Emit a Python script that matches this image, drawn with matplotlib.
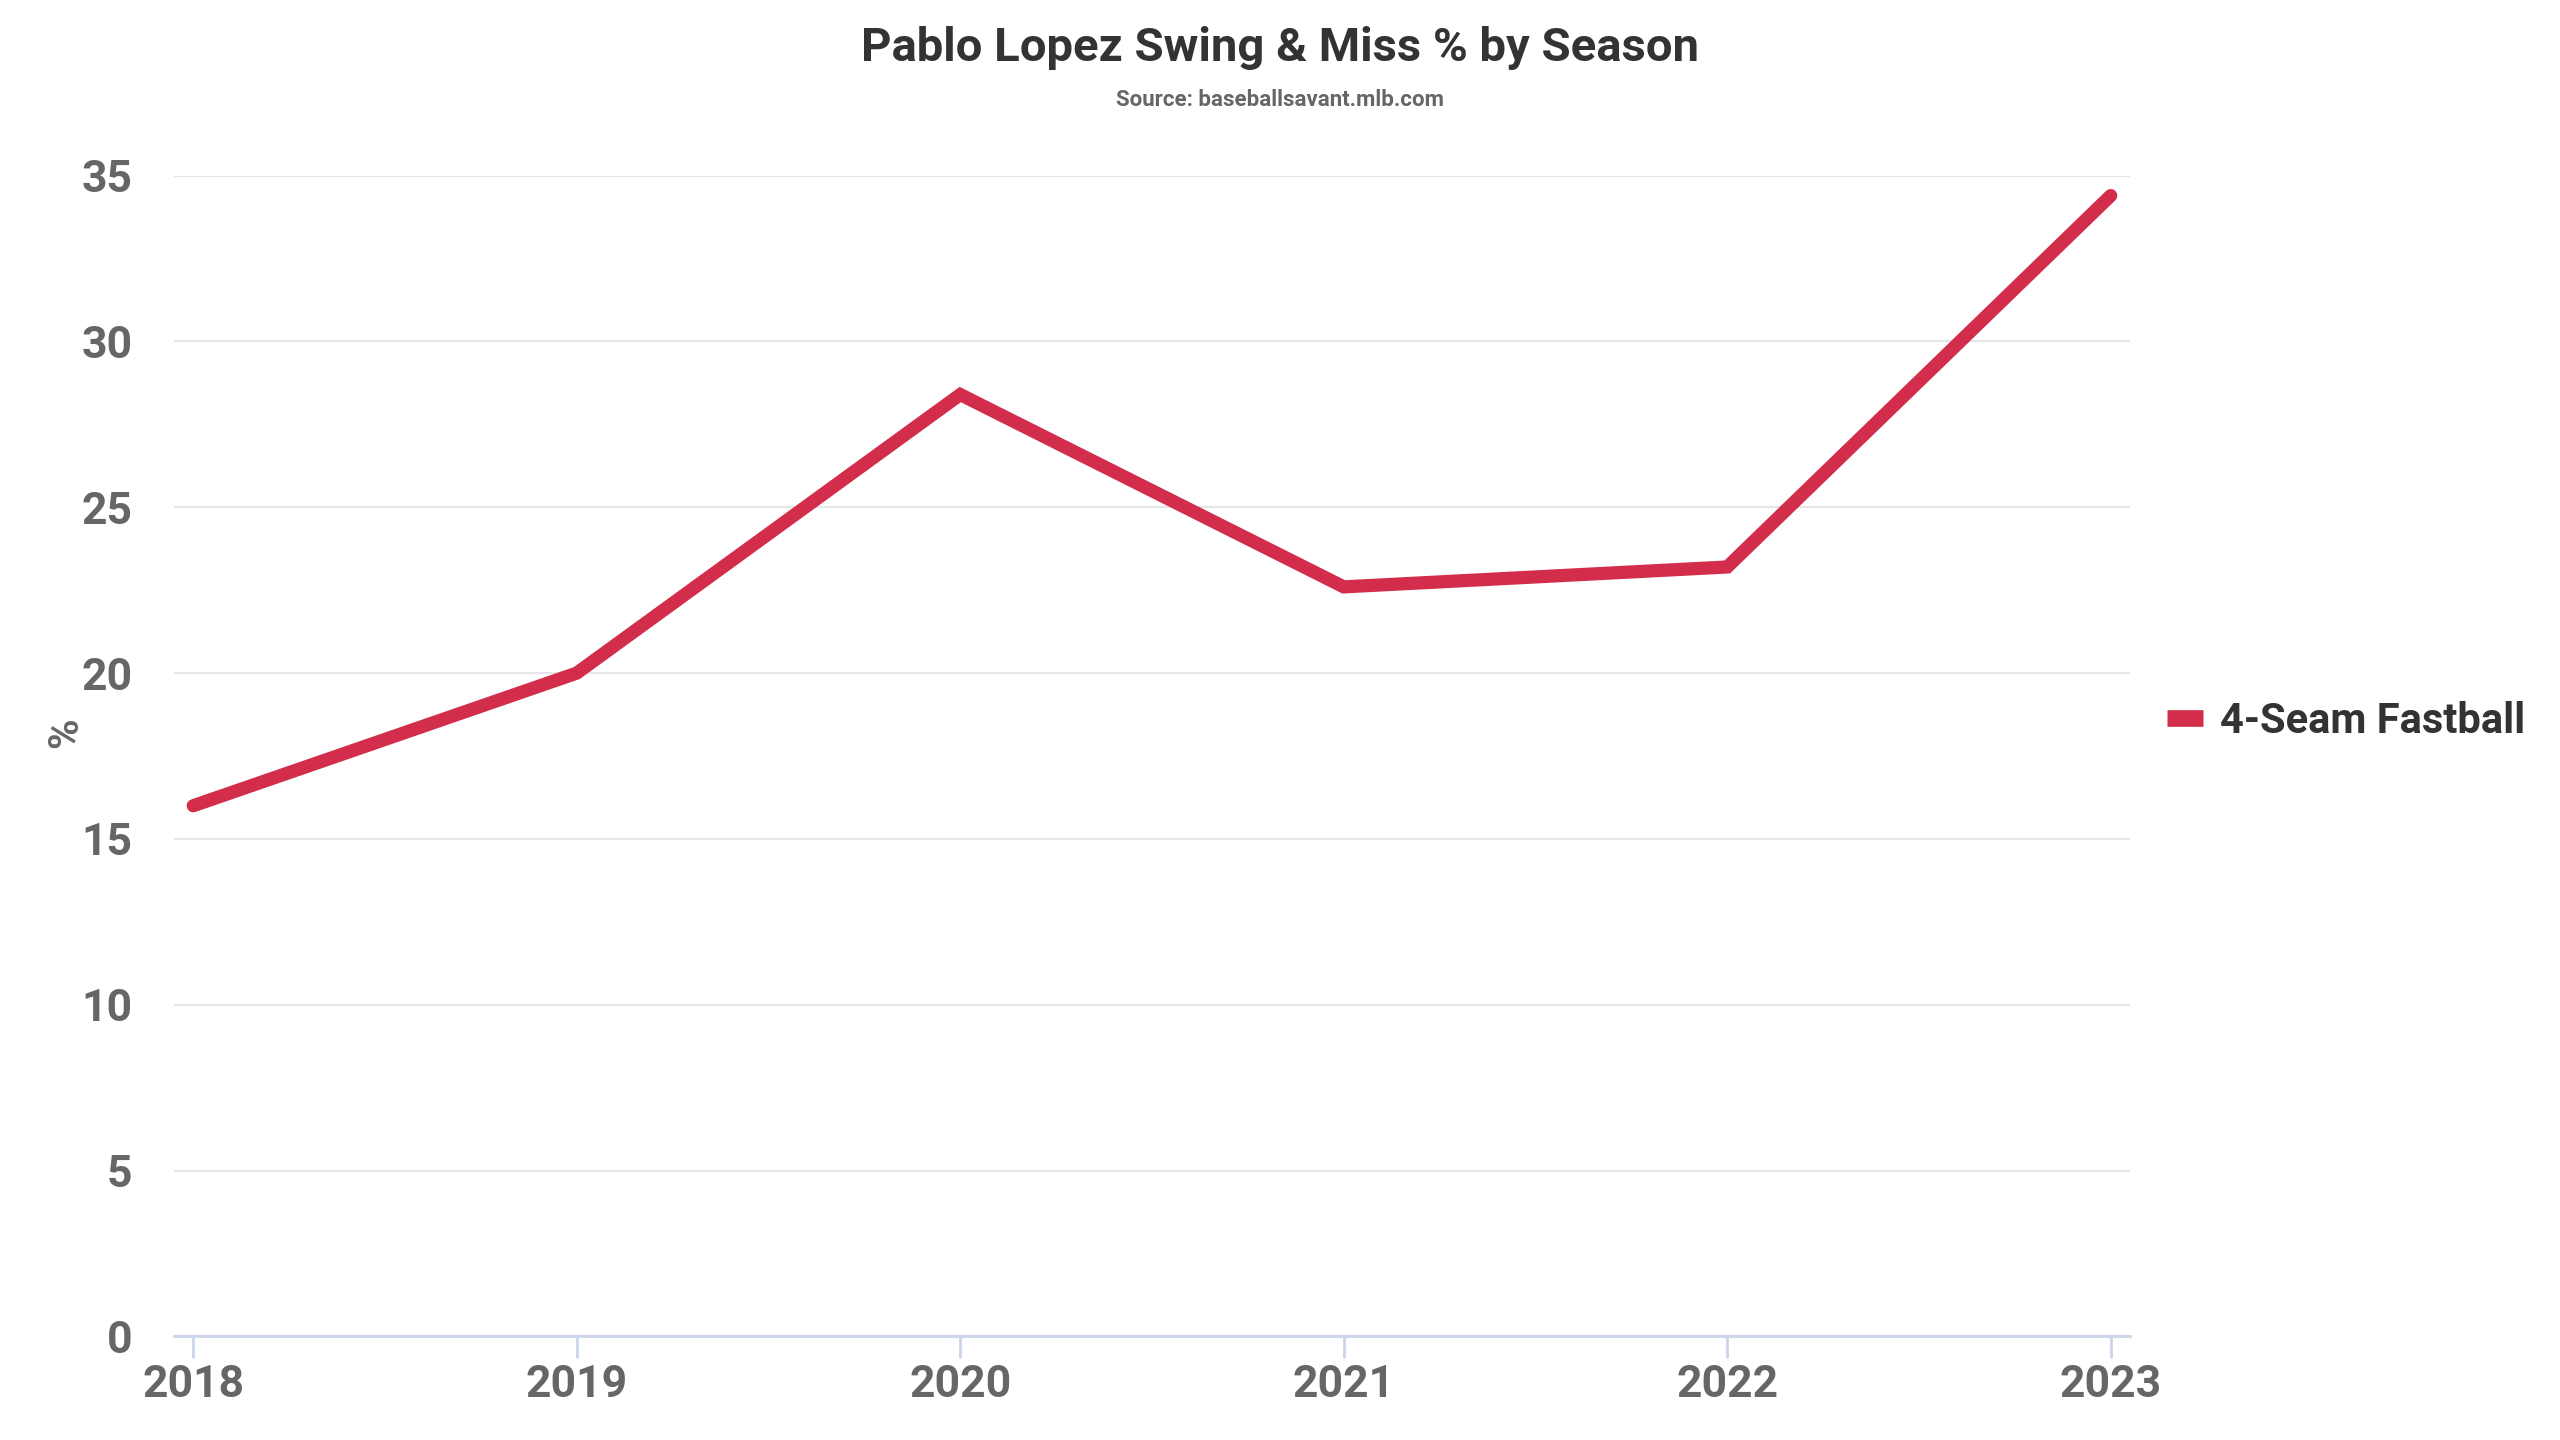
import matplotlib
matplotlib.use("Agg")
import matplotlib.pyplot as plt

plt.rcParams['font.family'] = ['Roboto', 'DejaVu Sans']

seasons = [2018, 2019, 2020, 2021, 2022, 2023]
whiff_pct = [16.0, 20.0, 28.4, 22.6, 23.2, 34.4]
series_name = '4-Seam Fastball'
yticks = [0, 5, 10, 15, 20, 25, 30, 35]

fig = plt.figure(figsize=(25.6, 14.4), dpi=100)
ax = fig.add_axes([0.068, 0.072, 0.764, 0.806])

ax.plot(seasons, whiff_pct, color='#d22d4a', lw=9.5, solid_capstyle='round',
        solid_joinstyle='miter', label=series_name, zorder=3)

ax.set_xlim(2017.95, 2023.05)
ax.set_ylim(0, 35)
ax.set_xticks(seasons)
ax.set_yticks(yticks)
ax.set_xticklabels([str(s) for s in seasons])

ax.grid(axis='y', color='#e6e6e6', lw=1.5)
ax.set_axisbelow(True)
for s in ['top', 'right', 'left']:
    ax.spines[s].set_visible(False)
ax.spines['bottom'].set_color('#ccd6eb')
ax.spines['bottom'].set_linewidth(2)

ax.tick_params(axis='x', colors='#ccd6eb', length=16, width=2, pad=4)
ax.tick_params(axis='y', length=0, pad=30)
for lab in ax.get_xticklabels() + ax.get_yticklabels():
    lab.set_color('#666666')
    lab.set_fontsize(32)
    lab.set_fontweight('bold')

ax.set_ylabel('%', fontsize=30, fontweight='bold', color='#666666')
ax.yaxis.set_label_coords(-0.045, 0.52)

fig.text(0.5, 0.982, 'Pablo Lopez Swing & Miss % by Season', ha='center', va='top',
         fontsize=34, fontweight='bold', color='#333333')
fig.text(0.5, 0.938, 'Source: baseballsavant.mlb.com', ha='center', va='top',
         fontsize=16, fontweight='bold', color='#666666')

leg = ax.legend(loc='center left', bbox_to_anchor=(1.0, 0.53), frameon=False,
                fontsize=30, handlelength=0.85, handletextpad=0.4)
for t in leg.get_texts():
    t.set_fontweight('bold')
    t.set_color('#333333')
for h in leg.get_lines():
    h.set_solid_capstyle('butt')
    h.set_linewidth(12)

fig.savefig('out.png', dpi=100, facecolor='white')
